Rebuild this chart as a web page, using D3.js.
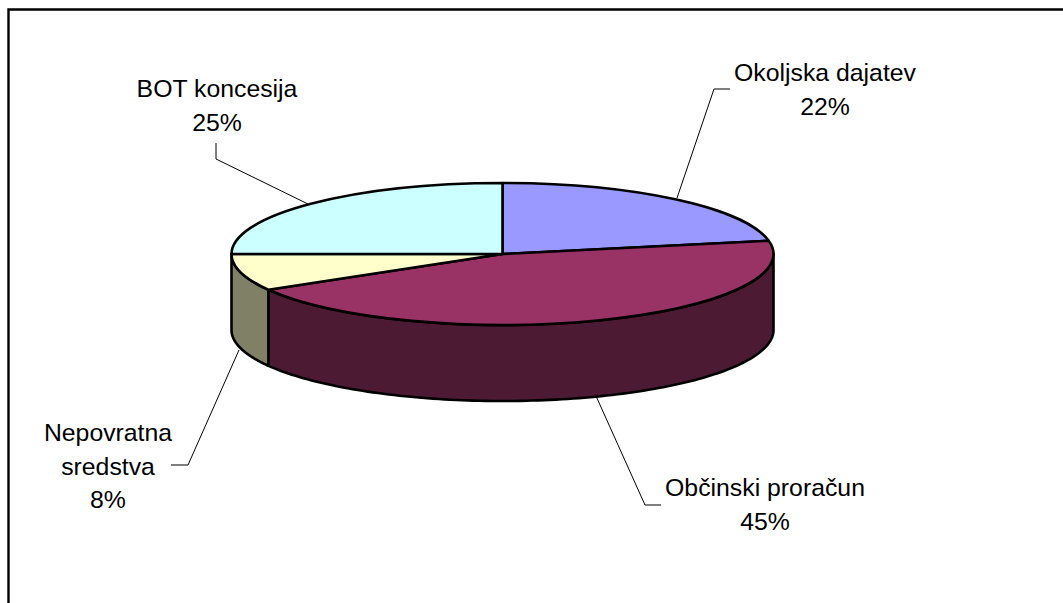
<!DOCTYPE html>
<html>
<head>
<meta charset="utf-8">
<script src="https://cdn.jsdelivr.net/npm/d3@7"></script>
<style>
    html, body { margin: 0; padding: 0; background: #fff; overflow: hidden; }
    svg { display: block; }
    text { font-family: "Liberation Sans", Arial, sans-serif; font-size: 24.8px; fill: #000; }
</style>
</head>
<body>
<svg id="chart" width="1063" height="603"></svg>
<script>
// Data (slice edges suggest 44.6 and 8.4 behind the rounded labels)
const categories = ["Okoljska dajatev", "Občinski proračun", "Nepovratna sredstva", "BOT koncesija"];
const shares = [22, 44.6, 8.4, 25];
const topColors = ["#9999FF", "#993366", "#FFFFCC", "#CCFFFF"];
const sideColors = ["#4D4D80", "#4D1A33", "#808066", "#668080"];

// Label lines, in the same order as the categories
const labelLines = [
    ["Okoljska dajatev"],
    ["Občinski proračun"],
    ["Nepovratna", "sredstva"],
    ["BOT koncesija"]
];
const labelCentres = [[825, 72], [765, 487], [108, 432], [217, 88]];
const leaders = [
    [[677, 198], [714, 89], [730, 89]],
    [[596, 396], [645, 505], [661, 505]],
    [[239, 350], [188, 465], [171, 465]],
    [[308, 204], [216, 159], [216, 143]]
];

// Pie dimensions
const cx = 502.5;
const cy = 254;
const rx = 271;
const ry = 71;
const depth = 76;
const lineStep = 33.5;

const svg = d3.select("#chart");

// Frame: only top and left edges show in the crop
svg.append("path")
    .attr("d", d3.line()([[8.5, 603], [8.5, 9.5], [1063, 9.5]]))
    .attr("fill", "none")
    .attr("stroke", "#000")
    .attr("stroke-width", 2.4);

const pie = d3.pie().sort(null).value(d => d);
const slices = pie(shares);

// Side walls, only the front half of the cylinder is visible
const wallArea = d3.area()
    .x(a => cx + rx * Math.sin(a))
    .y0(a => cy - ry * Math.cos(a))
    .y1(a => cy - ry * Math.cos(a) + depth);

slices.forEach((s, i) => {
    const from = Math.max(s.startAngle, Math.PI / 2);
    const to = Math.min(s.endAngle, Math.PI * 1.5);
    if (to <= from) return;
    const angles = d3.range(0, 121).map(k => from + (to - from) * k / 120);
    svg.append("path")
        .attr("d", wallArea(angles))
        .attr("fill", sideColors[i])
        .attr("stroke", "#000")
        .attr("stroke-width", 2.6)
        .attr("stroke-linejoin", "round");
});

// Top face: a flat pie squashed to an ellipse
const arc = d3.arc().innerRadius(0).outerRadius(rx);

svg.append("g")
    .attr("transform", `translate(${cx},${cy}) scale(1,${ry / rx})`)
    .selectAll("path")
    .data(slices)
    .join("path")
    .attr("d", arc)
    .attr("fill", (d, i) => topColors[i])
    .attr("stroke", "#000")
    .attr("stroke-width", 2.6)
    .attr("stroke-linejoin", "round")
    .attr("vector-effect", "non-scaling-stroke");

// Leader lines
svg.append("g")
    .selectAll("path")
    .data(leaders)
    .join("path")
    .attr("d", d => d3.line()(d))
    .attr("fill", "none")
    .attr("stroke", "#000")
    .attr("stroke-width", 1);

// Labels: name lines then the share
const labels = svg.append("g")
    .selectAll("text")
    .data(categories)
    .join("text")
    .attr("text-anchor", "middle")
    .attr("dominant-baseline", "central")
    .attr("aria-label", (d, i) => `${d} ${Math.round(shares[i])}%`);

labels.each(function (d, i) {
    const lines = labelLines[i].concat(`${Math.round(shares[i])}%`);
    d3.select(this).selectAll("tspan")
        .data(lines)
        .join("tspan")
        .attr("x", labelCentres[i][0])
        .attr("y", (t, k) => labelCentres[i][1] + k * lineStep)
        .text(t => t);
});
</script>
</body>
</html>
